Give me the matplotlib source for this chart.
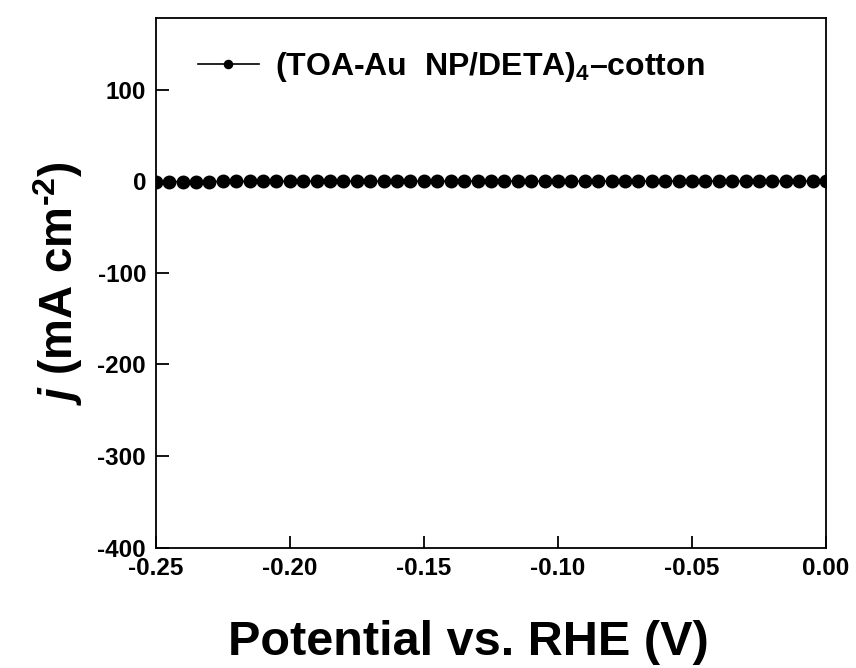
"""
  LSV curve of (TOA-Au NP/DETA)4-cotton
"""
import matplotlib.pyplot as plt

# potential (V vs RHE)
potential = [-0.250, -0.245, -0.240, -0.235, -0.230, -0.225, -0.220, -0.215,
             -0.210, -0.205, -0.200, -0.195, -0.190, -0.185, -0.180, -0.175,
             -0.170, -0.165, -0.160, -0.155, -0.150, -0.145, -0.140, -0.135,
             -0.130, -0.125, -0.120, -0.115, -0.110, -0.105, -0.100, -0.095,
             -0.090, -0.085, -0.080, -0.075, -0.070, -0.065, -0.060, -0.055,
             -0.050, -0.045, -0.040, -0.035, -0.030, -0.025, -0.020, -0.015,
             -0.010, -0.005, 0.000]
# current density (mA cm-2)
current = [-0.6, -0.5, -0.5, -0.4, -0.4, -0.3, -0.3, -0.3,
           -0.2, -0.2, -0.2, -0.2, -0.1, -0.1, -0.1, -0.1,
           -0.1, -0.1, -0.1, -0.1, 0.0, 0.0, 0.0, 0.0,
           0.0, 0.0, 0.0, 0.0, 0.0, 0.0, 0.0, 0.0,
           0.0, 0.0, 0.0, 0.0, 0.0, 0.0, 0.0, 0.0,
           0.0, 0.0, 0.0, 0.0, 0.0, 0.0, 0.0, 0.0,
           0.0, 0.0, 0.0]
xticks = [-0.25, -0.20, -0.15, -0.10, -0.05, 0.00]
yticks = [-400, -300, -200, -100, 0, 100]
label = '(TOA-Au  NP/DETA)$_\\mathbf{4}$\u2013cotton'

plt.rcParams['font.family'] = ['Liberation Sans', 'DejaVu Sans']
plt.rcParams['font.weight'] = 'bold'
plt.rcParams['axes.labelweight'] = 'bold'
plt.rcParams['axes.unicode_minus'] = False
plt.rcParams['mathtext.fontset'] = 'custom'
plt.rcParams['mathtext.rm'] = 'Liberation Sans:bold'
plt.rcParams['mathtext.bf'] = 'Liberation Sans:bold'
plt.rcParams['mathtext.it'] = 'Liberation Sans:bold:italic'

fig = plt.figure(figsize=(8.56, 6.68), dpi=100)
ax = fig.add_axes([0.182, 0.180, 0.783, 0.793])

ax.plot(potential, current, '-o', color='black', lw=1.2,
        markersize=9, label=label)

ax.set_xlim(-0.25, 0.0)
ax.set_ylim(-400, 178)
ax.set_xticks(xticks)
ax.set_xticklabels(['%.2f' % t for t in xticks])
ax.set_yticks(yticks)
ax.set_yticklabels([str(t) for t in yticks])
ax.tick_params(direction='in', length=9, width=1.3, labelsize=17.5, pad=7)
for s in ax.spines.values():
  s.set_linewidth(1.3)

ax.set_xlabel('Potential vs. RHE (V)', fontsize=35)
ax.xaxis.set_label_coords(0.467, -0.136)
ax.set_ylabel('$j$ (mA cm$^{\\text{-2}}$)', fontsize=33, labelpad=9)

ax.legend(loc='center left', bbox_to_anchor=(0.063, 0.908), frameon=False,
          fontsize=23, handlelength=1.9, handletextpad=0.5,
          borderaxespad=0, borderpad=0, markerscale=0.65)

plt.savefig('out.png', dpi=100)
